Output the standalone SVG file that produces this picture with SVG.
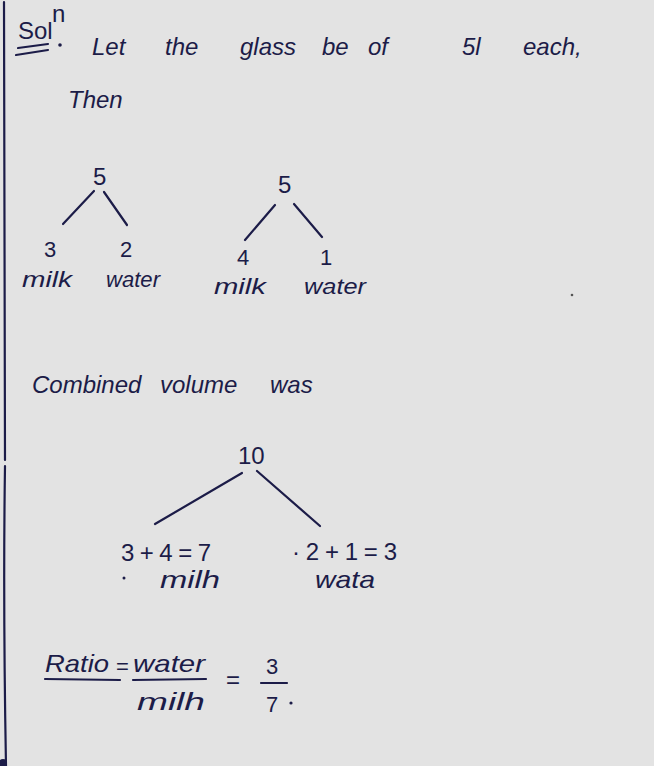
<svg xmlns="http://www.w3.org/2000/svg" width="654" height="766" viewBox="0 0 654 766">
<style>
.t{font-family:"Liberation Sans",Arial,sans-serif;fill:#1c1c48;font-size:24px}
.s{font-size:22px}
.i{font-style:italic}
.ln{stroke:#1c1c48;stroke-width:2.2;fill:none;stroke-linecap:round}
</style>
<rect width="654" height="766" fill="#e3e3e3"/>
<path class="ln" d="M4 2 L5 460 M5 466 Q3 600 6 766" stroke-width="2.5"/>
<circle cx="3" cy="763" r="4" fill="#1c1c48"/>
<g id="header">
<text class="t" x="18" y="39" font-size="19">Sol</text>
<text class="t" x="52" y="22" font-size="10">n</text>
<path class="ln" d="M18 48 L48 44 M16 55 L48 50" stroke-width="1.8"/>
<circle cx="60" cy="45" r="1.8" fill="#1c1c48"/>
<text class="t i" y="55" font-size="28"><tspan x="92">Let</tspan><tspan x="165">the</tspan><tspan x="240">glass</tspan><tspan x="322">be</tspan><tspan x="368">of</tspan><tspan x="462">5l</tspan><tspan x="523">each,</tspan></text>
<text class="t i" x="68" y="108" font-size="26">Then</text>
</g>
<g id="connectors">
<path class="ln" d="M94 191 L63 224 M104 192 L127 225"/>
<path class="ln" d="M275 205 L245 240 M294 204 L322 237"/>
<path class="ln" d="M242 473 L155 524 M257 471 L320 526"/>
<path class="ln" d="M45 679 L120 680 M133 680 L206 679 M261 683 L287 683" stroke-width="1.6"/>
</g>
<g id="tree1">
<text class="t" x="93" y="185">5</text>
<text class="t s" x="44" y="257">3</text>
<text class="t s" x="120" y="257">2</text>
<text class="t s i" x="22" y="287" textLength="50" lengthAdjust="spacingAndGlyphs">milk</text>
<text class="t s i" x="106" y="287" textLength="54" lengthAdjust="spacingAndGlyphs">water</text>
</g>
<g id="tree2">
<text class="t" x="278" y="193">5</text>
<text class="t s" x="237" y="265">4</text>
<text class="t s" x="320" y="265">1</text>
<text class="t s i" x="214" y="294" textLength="52" lengthAdjust="spacingAndGlyphs">milk</text>
<text class="t s i" x="304" y="294" textLength="62" lengthAdjust="spacingAndGlyphs">water</text>
</g>
<text class="t i" y="393" font-size="26"><tspan x="32">Combined</tspan><tspan x="160">volume</tspan><tspan x="270">was</tspan></text>
<g id="tree3">
<text class="t" x="238" y="464">10</text>
<text class="t" x="121" y="561" textLength="90">3+4=7</text>
<text class="t i" x="160" y="588" textLength="60" lengthAdjust="spacingAndGlyphs">milh</text>
<circle cx="124" cy="578" r="1.5" fill="#1c1c48"/>
<text class="t" x="292" y="560" textLength="105">·2+1=3</text>
<text class="t i" x="315" y="588" textLength="60" lengthAdjust="spacingAndGlyphs">wata</text>
</g>
<g id="ratio">
<text class="t i" x="45" y="672" textLength="64" lengthAdjust="spacingAndGlyphs">Ratio</text>
<text class="t s" x="116" y="674">=</text>
<text class="t i" x="133" y="672" textLength="72" lengthAdjust="spacingAndGlyphs">water</text>
<text class="t i" x="137" y="710" textLength="68" lengthAdjust="spacingAndGlyphs">milh</text>
<text class="t" x="226" y="688">=</text>
<text class="t s" x="266" y="674">3</text>
<text class="t s" x="266" y="712">7</text>
<circle cx="291" cy="703" r="1.6" fill="#1c1c48"/>
</g>
<circle cx="572" cy="295" r="1.3" fill="#555"/>
</svg>
